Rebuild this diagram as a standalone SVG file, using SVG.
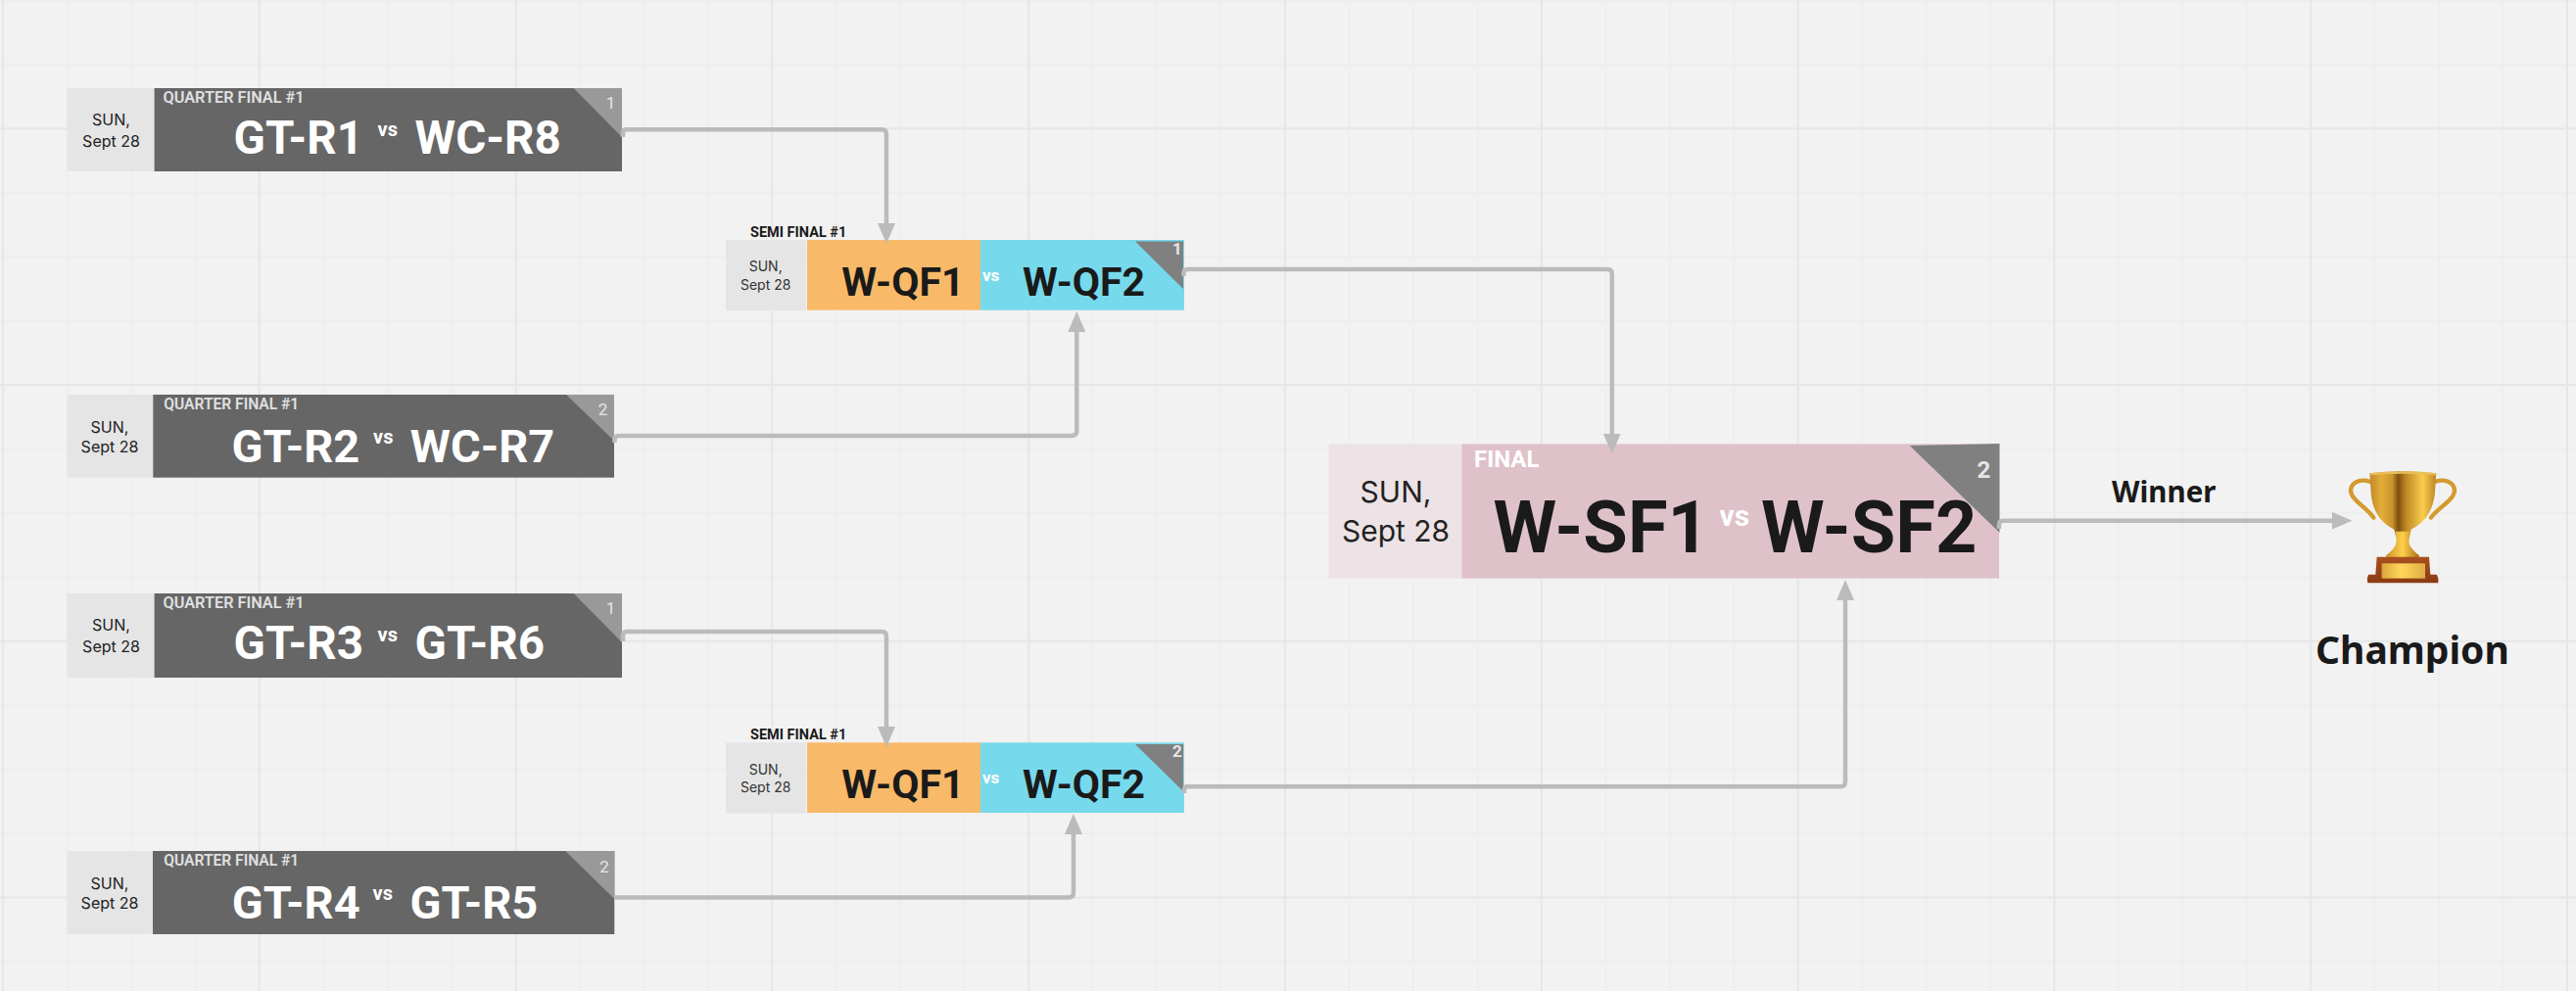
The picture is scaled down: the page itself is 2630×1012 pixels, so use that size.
<svg xmlns="http://www.w3.org/2000/svg" width="2630" height="1012" viewBox="0 0 2630 1012">
<style>
text{font-family:Roboto,"Liberation Sans",sans-serif}
.date{fill:#e5e5e5}
.dt{font-family:Inter,"Liberation Sans",sans-serif;font-size:16px;fill:#222;text-anchor:middle}
.dk{fill:#666}
.tri{fill:#999}
.qf{font-size:16.3px;font-weight:600;fill:#e0e0e0}
.qf2{font-size:15.6px}
.tm{font-size:47.6px;font-weight:700;fill:#fff}
.tm2{font-size:47px}
.vs{font-size:20px;font-weight:700;fill:#fff}
.n{font-size:17px;fill:#e6e6e6;text-anchor:middle}
.sf{font-size:14.5px;font-weight:700;fill:#1a1a1a}
.sd{font-size:14px;fill:#333}
.sm{font-size:41px;font-weight:700;fill:#1a1a1a}
.sv{font-size:17px;font-weight:700;fill:#fff}
.st{fill:#808080}
.sn{font-size:17px;font-weight:700;fill:#e6e6e6;text-anchor:middle}
.c{fill:none;stroke:#bbb;stroke-width:4.5;marker-end:url(#ah)}
.lb{font-family:"Noto Sans","Open Sans",sans-serif;font-weight:700;fill:#1a1a1a}
</style>
<defs>
<marker id="ah" viewBox="0 0 21 18" refX="1" refY="9" markerWidth="21" markerHeight="18" markerUnits="userSpaceOnUse" orient="auto"><path d="M0 0L21 9L0 18Z" fill="#bbb"/></marker>
<linearGradient id="cup" x1="0" x2="1" y1="0" y2="0"><stop offset="0" stop-color="#c08a28"/><stop offset=".18" stop-color="#e3ad3a"/><stop offset=".34" stop-color="#c8952c"/><stop offset=".43" stop-color="#7f500d"/><stop offset=".54" stop-color="#bd8624"/><stop offset=".8" stop-color="#f9cd4e"/><stop offset="1" stop-color="#bb8524"/></linearGradient>
<linearGradient id="plate" x1="0" x2="1" y1="0" y2="0"><stop offset="0" stop-color="#dba63c"/><stop offset=".45" stop-color="#ffd75a"/><stop offset="1" stop-color="#dfae45"/></linearGradient>
<linearGradient id="stem" x1="0" x2="1" y1="0" y2="0"><stop offset="0" stop-color="#c8922a"/><stop offset=".5" stop-color="#ffcf4d"/><stop offset="1" stop-color="#a86f14"/></linearGradient>
<linearGradient id="wood" x1="0" x2="0" y1="0" y2="1"><stop offset="0" stop-color="#a8501f"/><stop offset="1" stop-color="#8c3a12"/></linearGradient>
</defs>
<rect width="2630" height="1012" fill="#f2f2f2"/>
<g id="grid" fill="none" stroke-width="2">
<path stroke="#eee" d="M68.45 0V1012M133.9 0V1012M199.35 0V1012M330.25 0V1012M395.7 0V1012M461.15 0V1012M592.05 0V1012M657.5 0V1012M722.95 0V1012M853.85 0V1012M919.3 0V1012M984.75 0V1012M1115.65 0V1012M1181.1 0V1012M1246.55 0V1012M1377.45 0V1012M1442.9 0V1012M1508.35 0V1012M1639.25 0V1012M1704.7 0V1012M1770.15 0V1012M1901.05 0V1012M1966.5 0V1012M2031.95 0V1012M2162.85 0V1012M2228.3 0V1012M2293.75 0V1012M2424.65 0V1012M2490.1 0V1012M2555.55 0V1012M0 1H2630M0 65.75H2630M0 196.65H2630M0 262.1H2630M0 327.55H2630M0 458.45H2630M0 523.9H2630M0 589.35H2630M0 720.25H2630M0 785.7H2630M0 851.15H2630M0 982.05H2630"/>
<path stroke="#e6e6e6" d="M3 0V1012M264.8 0V1012M526.6 0V1012M788.4 0V1012M1050.2 0V1012M1312 0V1012M1573.8 0V1012M1835.6 0V1012M2097.4 0V1012M2359.2 0V1012M2621 0V1012M0 131.2H2630M0 393H2630M0 654.8H2630M0 916.6H2630"/>
</g>
<g id="qf1">
<rect class="date" x="68.6" y="90" width="89" height="85"/>
<rect class="dk" x="157.6" y="90" width="477.4" height="85"/>
<path class="tri" d="M585.7 90H635V140Z"/>
<text class="dt" x="113.5" y="128">SUN,</text><text class="dt" x="113.5" y="150">Sept 28</text>
<text class="qf" x="166.5" y="105">QUARTER FINAL #1</text>
<text class="tm" x="238.5" y="156.7">GT-R1</text><text class="vs" x="385.5" y="139">vs</text><text class="tm" x="423.5" y="156.7">WC-R8</text>
<text class="n" x="623.6" y="110.7">1</text>
</g>
<g id="qf2">
<rect class="date" x="68.6" y="403" width="87.7" height="84.7"/>
<rect class="dk" x="156.3" y="403" width="470.7" height="84.7"/>
<path class="tri" d="M578 403H627V450Z"/>
<text class="dt" x="112" y="441.7">SUN,</text><text class="dt" x="112" y="462.3">Sept 28</text>
<text class="qf qf2" x="167.3" y="418.3">QUARTER FINAL #1</text>
<text class="tm tm2" x="236.5" y="471.7">GT-R2</text><text class="vs" x="381" y="452.7">vs</text><text class="tm tm2" x="418.8" y="471.7">WC-R7</text>
<text class="n" x="615.5" y="424">2</text>
</g>
<g id="qf3">
<rect class="date" x="68.6" y="606" width="89" height="86"/>
<rect class="dk" x="157.6" y="606" width="477.4" height="86"/>
<path class="tri" d="M585.7 606H635V656Z"/>
<text class="dt" x="113.5" y="644">SUN,</text><text class="dt" x="113.5" y="666">Sept 28</text>
<text class="qf" x="166.5" y="621">QUARTER FINAL #1</text>
<text class="tm" x="238.5" y="672.7">GT-R3</text><text class="vs" x="385.5" y="655">vs</text><text class="tm" x="423.5" y="672.7">GT-R6</text>
<text class="n" x="623.6" y="626.7">1</text>
</g>
<g id="qf4">
<rect class="date" x="68.7" y="869" width="87.3" height="85"/>
<rect class="dk" x="156" y="869" width="471.3" height="85"/>
<path class="tri" d="M577.3 869H627.3V918Z"/>
<text class="dt" x="112" y="907.7">SUN,</text><text class="dt" x="112" y="928.3">Sept 28</text>
<text class="qf qf2" x="167.3" y="884">QUARTER FINAL #1</text>
<text class="tm tm2" x="236.8" y="938">GT-R4</text><text class="vs" x="380.5" y="919">vs</text><text class="tm tm2" x="418.5" y="938">GT-R5</text>
<text class="n" x="617" y="890.7">2</text>
</g>
<g id="sf1">
<rect class="date" x="741" y="245" width="82" height="72.3"/>
<rect x="824" y="245" width="177" height="71.7" fill="#f8b969"/>
<rect x="1001" y="245" width="208" height="71.7" fill="#77d9ec"/>
<path class="st" d="M1159 246.5H1208V295Z"/>
<text class="sf" x="766" y="241.7">SEMI FINAL #1</text>
<text class="dt sd" x="781.7" y="277.3">SUN,</text><text class="dt sd" x="781.7" y="296">Sept 28</text>
<text class="sm" x="859.3" y="302">W-QF1</text><text class="sv" x="1003" y="286.7">vs</text><text class="sm" x="1044" y="302">W-QF2</text>
<text class="sn" x="1202" y="260">1</text>
</g>
<g id="sf2">
<rect class="date" x="741" y="758.3" width="82" height="72.4"/>
<rect x="824" y="758.3" width="177" height="71.7" fill="#f8b969"/>
<rect x="1001" y="758.3" width="208" height="71.7" fill="#77d9ec"/>
<path class="st" d="M1159 760H1208V808Z"/>
<text class="sf" x="766" y="755">SEMI FINAL #1</text>
<text class="dt sd" x="781.7" y="790.6">SUN,</text><text class="dt sd" x="781.7" y="809.3">Sept 28</text>
<text class="sm" x="859.3" y="815.3">W-QF1</text><text class="sv" x="1003" y="800">vs</text><text class="sm" x="1044" y="815.3">W-QF2</text>
<text class="sn" x="1202" y="772.7">2</text>
</g>
<g id="final">
<rect x="1356.5" y="453.3" width="136" height="137.4" fill="#ede3e6"/>
<rect x="1492.4" y="453.3" width="548.6" height="137.4" fill="#dfc2c9"/>
<path class="st" d="M1949.7 455L2041.5 453V544Z"/>
<text class="dt" x="1425" y="512.7" style="font-size:30px">SUN,</text><text class="dt" x="1425" y="553.3" style="font-size:30px">Sept 28</text>
<text x="1505" y="476.7" style="font-size:24px;font-weight:700;fill:#fff">FINAL</text>
<text class="sm" x="1524.6" y="564.3" style="font-size:74px">W-SF1</text><text x="1755.5" y="537.3" style="font-size:30px;font-weight:700;fill:#fff">vs</text><text class="sm" x="1798" y="564.3" style="font-size:74px">W-SF2</text>
<text x="2025.5" y="488" style="font-size:24px;font-weight:700;fill:#e6e6e6;text-anchor:middle">2</text>
</g>
<g id="trophy" transform="translate(2380 470) scale(.3333)">
<g fill="none" stroke="#d39a2e" stroke-width="13" stroke-linecap="round">
<path d="M120 66C92 56 62 66 60 92C60 122 112 146 130 176"/>
<path d="M318 66C346 56 376 66 378 92C378 122 326 146 306 176"/>
</g>
<path d="M118 40Q219 28 322 40L318 100Q310 180 245 212L240 232H198L193 212Q128 180 122 100Z" fill="url(#cup)"/>
<path d="M118 40Q219 28 322 40L321 46Q219 36 118 46Z" fill="#e9bd58"/>
<path d="M197 218H243L238 250Q240 270 270 292Q270 304 250 304H188Q168 304 168 292Q198 270 200 250Z" fill="url(#stem)"/>
<path d="M140 296H300L304 350H324Q330 362 328 376H112Q108 362 114 350H136Z" fill="url(#wood)"/>
<rect x="155" y="316" width="133" height="46" fill="url(#plate)"/>
</g>
<g id="connectors">
<path class="c" d="M636 140V136Q636 132.3 640 132.3H900Q905 132.3 905 137.3V229"/>
<path class="c" d="M627.5 452V449Q627.5 445 631.5 445H1094Q1099.3 445 1099.3 440V338"/>
<path class="c" d="M636 655V649Q636 645 640 645H900Q905 645 905 650V743"/>
<path class="c" d="M627.5 916.5H1091Q1096 916.5 1096 911.5V851"/>
<path class="c" d="M1208.5 282V279Q1208.5 275 1212.5 275H1640.8Q1645.8 275 1645.8 280V443.5"/>
<path class="c" d="M1209 810V807Q1209 803.3 1213 803.3H1879Q1884 803.3 1884 798.3V612"/>
<path class="c" d="M2041 540V535.7Q2041 531.7 2045 531.7H2381.5"/>
</g>
<text id="winner" class="lb" x="2156" y="512.7" font-size="29.5">Winner</text>
<text id="champion" class="lb" x="2364" y="678.3" font-size="39">Champion</text>
</svg>
